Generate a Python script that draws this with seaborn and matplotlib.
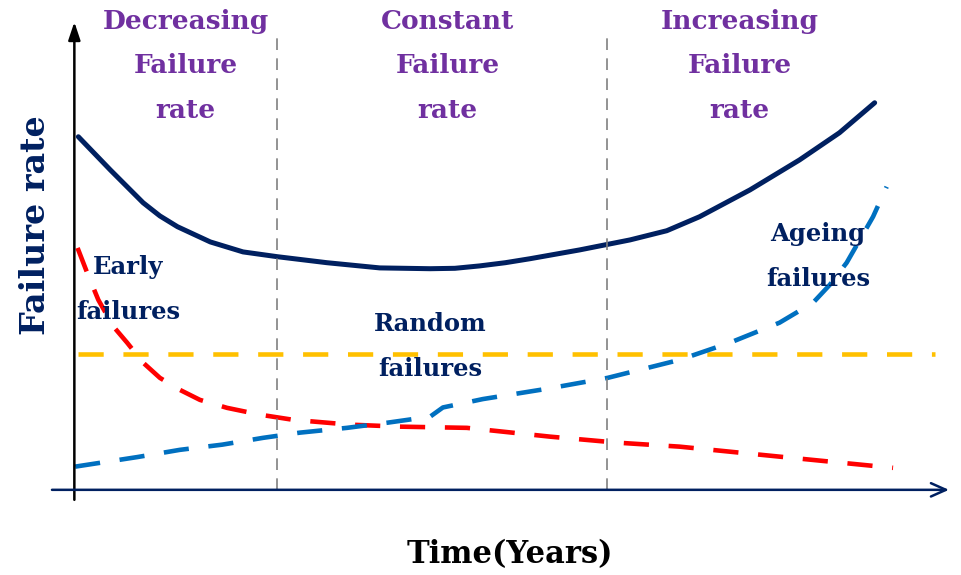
import matplotlib
matplotlib.use("Agg")
import matplotlib.pyplot as plt
import seaborn as sns

# Bathtub curve: time (years) vs failure rate (arbitrary units)
t_total = [0.04, 0.44, 0.85, 1.06, 1.28, 1.69, 2.1, 2.53, 3.15, 3.81, 4.44,
           4.75, 5.06, 5.38, 5.69, 6.31, 6.94, 7.4, 7.81, 8.44, 9.06, 9.56, 10.0]
r_total = [8.83, 8.0, 7.18, 6.85, 6.58, 6.2, 5.95, 5.83, 5.68, 5.55, 5.53,
           5.54, 5.6, 5.68, 5.78, 6.0, 6.25, 6.48, 6.83, 7.5, 8.25, 8.93, 9.68]

t_early = [0.03, 0.15, 0.29, 0.48, 0.65, 0.85, 1.06, 1.31, 1.56, 1.9, 2.31,
           2.73, 3.44, 4.06, 4.9, 5.94, 6.78, 7.56, 8.81, 10.23]
r_early = [6.05, 5.43, 4.75, 4.08, 3.68, 3.18, 2.8, 2.5, 2.25, 2.05, 1.88,
           1.75, 1.63, 1.58, 1.55, 1.33, 1.18, 1.08, 0.83, 0.55]

t_ageing = [0.0, 0.78, 1.31, 1.84, 2.35, 2.81, 3.4, 3.91, 4.44, 4.6, 5.1,
            5.91, 6.66, 7.56, 8.19, 8.81, 9.23, 9.44, 9.65, 9.98, 10.15]
r_ageing = [0.58, 0.82, 1.0, 1.13, 1.3, 1.43, 1.55, 1.68, 1.83, 2.06, 2.27,
            2.53, 2.8, 3.25, 3.68, 4.18, 4.68, 5.13, 5.68, 6.83, 7.58]

t_random = [0.03, 10.75]
r_random = [3.4, 3.4]

phase_bounds = [2.53, 6.65]
phase_labels = ["Decreasing\nFailure\nrate", "Constant\nFailure\nrate",
                "Increasing\nFailure\nrate"]
phase_x = [1.38, 4.66, 8.31]

curve_labels = ["Early\nfailures", "Random\nfailures", "Ageing\nfailures"]
curve_label_pos = [(0.66, 5.0), (4.44, 3.58), (9.29, 5.83)]

navy = "#002060"
purple = "#7030A0"

sns.set_theme(style="white")
plt.rcParams["font.family"] = ["DejaVu Serif"]

fig = plt.figure(figsize=(9.61, 5.75), dpi=100)
ax = fig.add_axes([0, 0, 1, 1])
ax.set_xlim(-0.94, 11.08)
ax.set_ylim(-2.13, 12.25)
ax.axis("off")

dash = (0, (5.5, 4.3))
sns.lineplot(x=t_random, y=r_random, ax=ax, color="#FFC000", linewidth=3.3,
             linestyle=dash, sort=False)
sns.lineplot(x=t_early, y=r_early, ax=ax, color="#FF0000", linewidth=3.3,
             linestyle=dash, sort=False, dash_joinstyle="round")
sns.lineplot(x=t_ageing, y=r_ageing, ax=ax, color="#0070C0", linewidth=3.3,
             linestyle=dash, sort=False, dash_joinstyle="round")
sns.lineplot(x=t_total, y=r_total, ax=ax, color=navy, linewidth=3.6, sort=False,
             solid_joinstyle="round")

for xb in phase_bounds:
    ax.plot([xb, xb], [0, 11.45], color="#808080", linewidth=1.2,
            linestyle=(0, (7, 5)))

# axes arrows
ax.annotate("", xy=(-0.01, 11.7), xytext=(-0.01, -0.25),
            arrowprops=dict(arrowstyle="-|>,head_length=0.9,head_width=0.3",
                            color="black", lw=1.8, shrinkA=0, shrinkB=0))
ax.annotate("", xy=(10.93, 0), xytext=(-0.29, 0),
            arrowprops=dict(arrowstyle="->,head_length=0.9,head_width=0.4",
                            color=navy, lw=1.8, shrinkA=0, shrinkB=0))

for lab, xp in zip(phase_labels, phase_x):
    ax.text(xp, 10.6, lab, color=purple, fontsize=19, fontweight="bold",
            ha="center", va="center", linespacing=1.98)

for lab, (xp, yp) in zip(curve_labels, curve_label_pos):
    ax.text(xp, yp, lab, color=navy, fontsize=17.5, fontweight="bold",
            ha="center", va="center", linespacing=2.1)

ax.text(-0.5, 6.63, "Failure rate", color=navy, fontsize=24, fontweight="bold",
        ha="center", va="center", rotation=90)
ax.text(5.44, -1.63, "Time(Years)", color="black", fontsize=22,
        fontweight="bold", ha="center", va="center")

fig.savefig("out.png", dpi=100)
